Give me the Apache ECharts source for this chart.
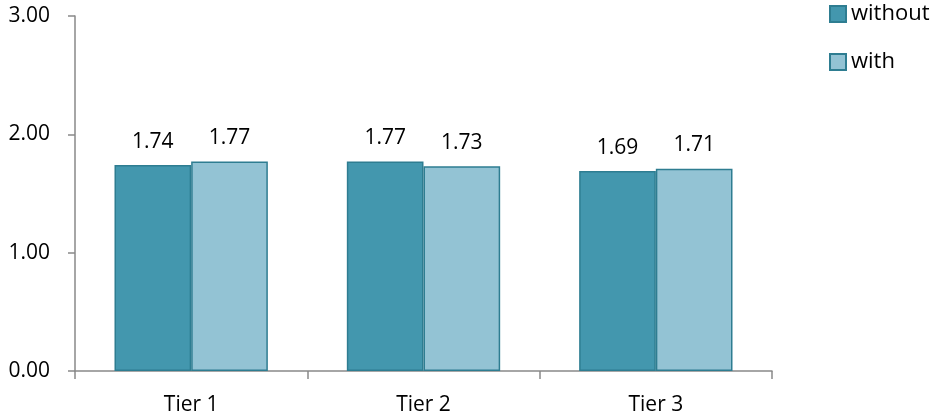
<!DOCTYPE html>
<html>
<head>
<meta charset="utf-8">
<script src="https://cdn.jsdelivr.net/npm/echarts@6/dist/echarts.min.js"></script>
<style>
  html, body { margin: 0; padding: 0; background: #fff; }
  #chart { width: 938px; height: 416px; }
</style>
</head>
<body>
<div id="chart"></div>
<script>
// 类目与数据
const categories = ['Tier 1', 'Tier 2', 'Tier 3'];
const withoutValues = [1.74, 1.77, 1.69];
const withValues = [1.77, 1.73, 1.71];
const seriesNames = ['without', 'with'];

const FONT = '"Open Sans", "Liberation Sans", sans-serif';
const FS = 21;

const chart = echarts.init(document.getElementById('chart'));

chart.setOption({
    animation: false,
    textStyle: { fontFamily: FONT },
    grid: { left: 75, top: 16, right: 166, bottom: 43 },
    legend: {
        orient: 'vertical',
        left: 824,
        top: -2,
        itemWidth: 16,
        itemHeight: 16,
        itemGap: 26,
        itemTextGap: 7,
        icon: 'rect',
        textStyle: { fontSize: FS + 1, color: '#000', fontFamily: FONT },
        data: seriesNames
    },
    xAxis: {
        type: 'category',
        data: categories,
        axisLine: { lineStyle: { color: '#898989', width: 1.5 } },
        axisTick: { show: true, length: 8, lineStyle: { color: '#898989', width: 1.5 } },
        axisLabel: { fontSize: FS, color: '#000', margin: 24 }
    },
    yAxis: {
        type: 'value',
        min: 0,
        max: 3,
        interval: 1,
        axisLine: { show: true, lineStyle: { color: '#898989', width: 1.5 } },
        axisTick: { show: true, length: 7, lineStyle: { color: '#898989', width: 1.5 } },
        splitLine: { show: false },
        axisLabel: {
            fontSize: FS, color: '#000', margin: 25,
            formatter: v => v.toFixed(2)
        }
    },
    series: [
        {
            name: seriesNames[0],
            type: 'bar',
            data: withoutValues,
            barGap: '0%',
            barCategoryGap: '34%',
            itemStyle: { color: '#4397AE', borderColor: '#2E7D91', borderWidth: 1.5 },
            label: {
                show: true, position: 'top', distance: 13,
                fontSize: FS, color: '#000',
                formatter: p => p.value.toFixed(2)
            }
        },
        {
            name: seriesNames[1],
            type: 'bar',
            data: withValues,
            itemStyle: { color: '#93C3D4', borderColor: '#2E7D91', borderWidth: 1.5 },
            label: {
                show: true, position: 'top', distance: 13,
                fontSize: FS, color: '#000',
                formatter: p => p.value.toFixed(2)
            }
        }
    ]
});
</script>
</body>
</html>
